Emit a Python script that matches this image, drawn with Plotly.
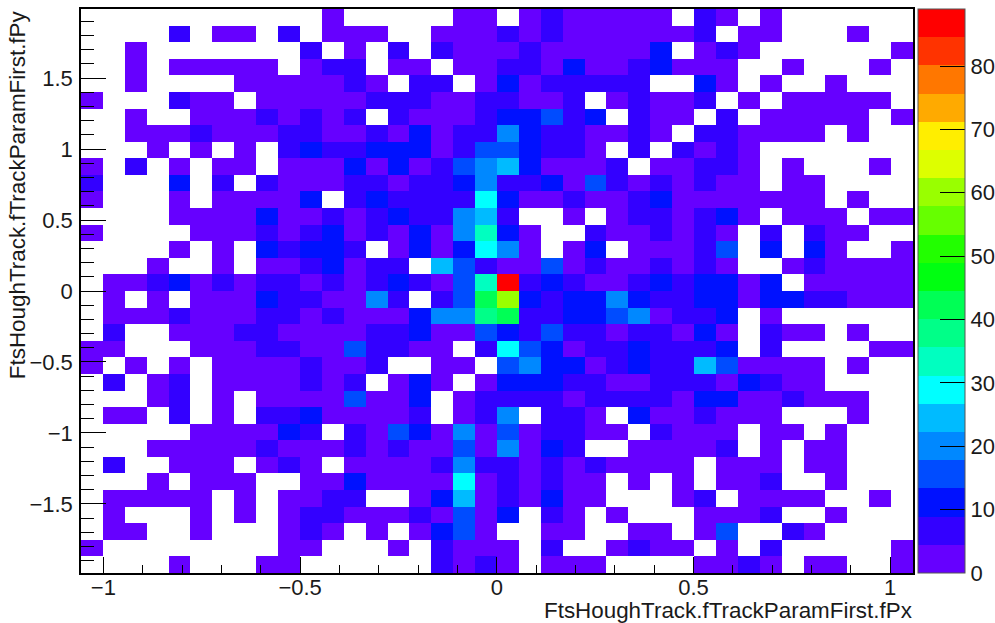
import plotly.graph_objects as go

# Counts per bin, top row of the picture first (0 = empty bin, drawn white)
counts_top_down = [
    [0,0,0,0,0,0,0,0,0,0,0,2,0,0,0,0,0,2,2,0,2,6,2,2,2,2,2,0,6,2,0,2,0,0,0,0,0,0],
    [0,0,0,0,6,0,2,2,0,6,0,2,2,2,0,0,2,2,2,6,2,6,2,2,2,2,2,2,6,0,2,2,0,0,0,2,0,0],
    [0,0,2,0,0,0,0,0,0,0,6,0,2,0,6,0,6,2,2,2,6,2,2,2,2,2,11,0,2,6,2,0,0,0,0,0,0,2],
    [0,0,2,0,2,2,2,2,2,0,2,6,6,0,2,2,0,2,2,6,6,2,11,2,2,6,11,2,2,2,0,0,2,0,0,0,2,0],
    [0,0,2,0,0,0,0,2,2,2,2,2,6,2,0,6,6,0,2,11,2,6,6,6,6,6,0,0,11,2,0,2,0,0,2,0,0,0],
    [2,0,0,0,6,2,2,0,2,2,2,2,2,6,6,6,2,2,6,6,2,2,6,0,2,6,2,2,6,0,2,0,2,2,2,2,2,0],
    [0,0,2,0,0,2,2,2,6,2,6,2,6,0,6,2,2,2,6,11,11,15,6,11,0,6,2,2,0,6,0,2,2,2,2,2,0,2],
    [0,0,2,2,2,6,2,2,2,6,6,2,2,6,2,11,2,6,6,20,11,6,6,2,2,6,2,0,6,6,2,2,2,2,0,2,0,0],
    [0,0,0,2,0,2,0,2,0,6,11,6,6,11,11,11,2,6,15,15,11,6,6,2,0,6,0,6,2,6,2,0,0,0,0,0,0,0],
    [2,0,6,0,2,0,2,2,0,2,2,2,11,2,11,2,6,15,20,24,11,2,2,2,6,0,2,2,6,6,2,0,2,0,0,0,2,0],
    [6,0,0,0,11,0,6,0,6,2,2,2,6,6,2,6,6,11,20,6,6,11,2,15,6,2,6,2,6,2,2,0,2,2,0,0,0,0],
    [2,0,0,0,2,0,2,2,2,2,11,0,6,11,6,6,6,6,29,11,2,2,6,2,2,6,11,2,2,2,2,2,2,2,0,2,0,0],
    [0,0,0,0,2,2,2,2,11,2,2,6,2,6,11,6,6,20,24,6,0,0,2,0,2,6,6,2,6,11,2,0,2,2,2,0,2,2],
    [2,0,0,0,0,2,2,2,6,2,6,11,2,6,2,11,2,20,33,11,2,0,0,6,2,2,6,2,6,2,0,6,0,6,2,2,0,0],
    [0,0,0,0,2,0,2,0,11,6,11,11,6,0,2,11,2,11,29,20,2,0,2,11,0,2,2,2,6,15,0,11,0,11,2,0,0,2],
    [0,0,0,2,0,0,2,0,2,2,6,11,2,6,6,0,24,15,6,2,2,15,2,6,2,2,6,2,6,2,0,0,2,6,2,2,2,2],
    [0,2,2,6,11,2,6,2,6,6,2,6,2,6,11,6,2,15,33,88,6,11,6,2,2,6,11,6,11,11,2,11,0,2,2,2,2,2],
    [0,2,0,2,0,2,2,2,11,6,6,2,2,20,6,0,6,15,42,60,11,6,11,11,20,11,6,6,11,11,2,11,11,6,6,2,2,2],
    [0,2,2,2,6,2,2,2,6,6,2,6,2,2,2,11,20,20,38,42,6,6,11,11,15,20,2,6,6,11,0,2,0,0,0,0,0,0],
    [0,6,0,0,2,2,2,6,6,2,2,2,2,6,6,11,2,2,15,11,6,15,6,6,2,6,6,2,11,2,0,6,2,2,0,2,0,0],
    [2,2,0,0,0,2,2,2,6,6,2,2,15,6,6,2,2,0,6,29,15,11,2,6,6,11,6,6,6,11,0,6,0,0,0,0,2,2],
    [2,0,2,0,2,0,2,2,2,2,6,2,2,6,0,0,2,2,0,15,20,11,11,2,6,11,6,6,24,15,2,2,2,2,0,2,0,0],
    [0,6,0,2,6,0,2,2,2,2,6,2,6,0,2,11,2,0,2,11,11,11,6,6,2,2,6,6,6,2,11,6,2,2,0,0,0,0],
    [0,0,0,2,6,0,2,0,2,2,2,2,15,2,2,11,0,2,6,6,6,6,2,6,6,6,6,2,11,11,2,2,6,2,2,2,0,0],
    [0,2,2,0,6,0,2,0,6,6,11,2,2,2,2,6,0,2,6,20,0,6,6,2,0,11,2,2,6,2,2,2,0,0,0,2,0,0],
    [0,0,0,0,0,2,2,2,2,11,6,0,6,2,15,11,2,20,2,15,2,6,6,2,2,0,6,2,2,2,0,2,2,0,2,0,0,0],
    [0,0,0,2,2,2,2,2,6,2,2,2,6,2,6,2,2,15,2,20,2,11,6,0,0,2,2,2,2,6,0,2,0,2,2,0,0,0],
    [0,6,0,0,2,2,2,0,2,6,2,0,2,2,2,2,6,20,6,6,2,6,2,6,2,2,2,2,0,2,2,2,0,2,2,0,0,0],
    [0,0,0,2,0,2,2,2,0,0,2,2,11,2,2,2,2,29,2,6,2,6,2,2,0,2,0,2,0,2,2,6,0,0,2,0,0,0],
    [0,2,2,2,2,2,0,2,0,2,2,6,6,0,0,2,11,24,2,6,2,11,2,2,0,0,0,2,6,0,2,2,2,2,0,0,2,0],
    [0,2,0,0,0,2,0,2,0,2,6,6,2,2,2,6,2,15,2,11,0,6,2,0,2,0,0,0,2,2,2,6,0,0,2,0,0,0],
    [0,2,2,0,0,2,0,0,0,2,6,2,0,2,0,2,11,15,2,0,0,2,2,0,0,2,2,0,2,15,0,0,6,2,0,0,0,0],
    [2,0,0,0,0,0,0,0,0,2,2,0,0,0,2,0,6,2,2,2,0,6,0,0,2,6,2,2,0,2,0,6,0,0,0,0,0,2],
    [0,0,0,0,2,0,0,0,2,2,0,0,0,0,0,0,6,2,6,2,0,2,2,2,0,0,0,0,2,2,6,2,0,2,2,0,0,2],
]
band_colors = ["#6600ff","#3300ff","#0011ff","#004cff","#0088ff","#00bbff","#00ffff",
               "#00ffc0","#00ff88","#00ff55","#00ff11","#22ff00","#66ff00","#99ff00",
               "#ddff00","#ffee00","#ffaa00","#ff7700","#ff3300","#ff0000"]
x_range = [-1.057, 1.058]
y_range = [-1.987, 1.987]
z_max = 89
color_ticks = [0, 10, 20, 30, 40, 50, 60, 70, 80]
x_title = "FtsHoughTrack.fTrackParamFirst.fPx"
y_title = "FtsHoughTrack.fTrackParamFirst.fPy"

FONT = "Liberation Sans, Arial, sans-serif"
TEXT = "#1a1a1a"
n_rows, n_cols = len(counts_top_down), len(counts_top_down[0])
dx = (x_range[1] - x_range[0]) / n_cols
dy = (y_range[1] - y_range[0]) / n_rows
z = [[v if v > 0 else None for v in row] for row in reversed(counts_top_down)]

scale = []
n = len(band_colors)
for i, c in enumerate(band_colors):
    scale.append([i / n, c])
    scale.append([(i + 1) / n, c])

fig = go.Figure(go.Heatmap(
    z=z, x0=x_range[0] + dx / 2, dx=dx, y0=y_range[0] + dy / 2, dy=dy,
    zmin=0, zmax=z_max, colorscale=scale, hoverongaps=False, xgap=0, ygap=0,
    colorbar=dict(
        thickness=47, thicknessmode="pixels", len=1, lenmode="fraction",
        x=(918 - 81) / 832, xanchor="left", xpad=0,
        y=0, yanchor="bottom", ypad=0,
        tickmode="array", tickvals=color_ticks, ticks="inside", ticklen=25,
        tickcolor="black", tickwidth=1, outlinewidth=1, outlinecolor="#555555",
        tickfont=dict(family=FONT, size=22, color=TEXT),
    ),
))

axis_common = dict(showgrid=False, zeroline=False, showline=True, linecolor="black",
                   linewidth=1.5, mirror=True, ticks="inside", tickcolor="black",
                   tickwidth=1, tick0=0, dtick=0.5,
                   tickfont=dict(family=FONT, size=22, color=TEXT))
fig.update_xaxes(range=x_range, ticklen=16, ticklabelstandoff=-6,
                 minor=dict(ticks="inside", ticklen=8, dtick=0.1, tick0=0,
                            tickcolor="black", tickwidth=1, showgrid=False),
                 **axis_common)
fig.update_yaxes(range=y_range, ticklen=25, ticklabelstandoff=2,
                 minor=dict(ticks="inside", ticklen=13, dtick=0.1, tick0=0,
                            tickcolor="black", tickwidth=1, showgrid=False),
                 **axis_common)
fig.update_layout(
    width=995, height=623, autosize=False, showlegend=False,
    margin=dict(l=81, r=82, t=9, b=50, pad=0, autoexpand=False),
    paper_bgcolor="white", plot_bgcolor="white",
    annotations=[
        dict(text=x_title, xref="paper", yref="paper", x=1.001, y=-0.041, xanchor="right",
             yanchor="top", showarrow=False, font=dict(family=FONT, size=22.4, color=TEXT)),
        dict(text=y_title, xref="paper", yref="paper", x=-0.076, y=1.002, xanchor="center",
             yanchor="top", textangle=-90, showarrow=False,
             font=dict(family=FONT, size=22.4, color=TEXT)),
    ],
)
fig.write_html("out.html", config=dict(displayModeBar=False),
               post_script="document.body.style.margin='0';")
